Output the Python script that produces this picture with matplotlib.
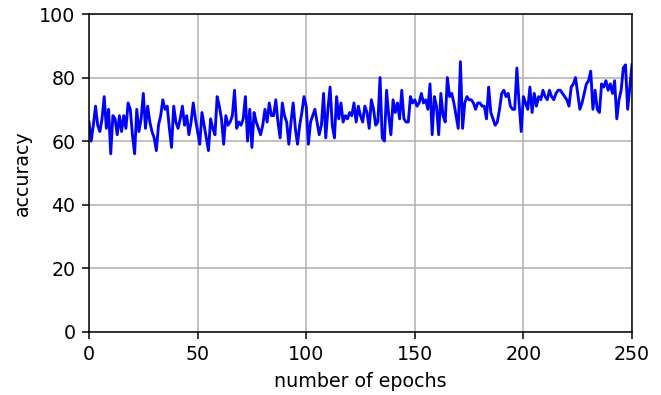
import numpy as np
import matplotlib
matplotlib.use("Agg")
import matplotlib.pyplot as plt

# accuracy per epoch
ACC_0_42 = [66, 60, 65, 71, 65, 63, 67, 74, 64, 70, 56, 68, 67, 62, 68, 63, 68, 64, 72,
            70, 62, 56, 70, 63, 67, 75, 64, 71, 66, 63, 61, 57, 65, 68, 73, 70, 71, 64,
            58, 71, 66, 64, 67]
ACC_43_84 = [71, 65, 68, 62, 66, 72, 67, 63, 59, 69, 65, 61, 57, 67, 64, 62, 74, 71, 67,
             59, 68, 65, 66, 68, 76, 64, 66, 65, 67, 74, 60, 70, 58, 69, 66, 64, 62, 65,
             70, 66, 72, 68]
ACC_85_125 = [68, 73, 66, 61, 72, 68, 66, 59, 66, 72, 64, 59, 65, 69, 74, 71, 59, 66, 68,
              70, 66, 62, 65, 75, 61, 70, 77, 65, 61, 74, 67, 72, 66, 68, 67, 69, 68, 72,
              66, 71, 68]
ACC_126_166 = [66, 71, 69, 64, 73, 70, 65, 66, 80, 61, 60, 76, 68, 62, 73, 69, 72, 67, 76,
               67, 66, 66, 74, 72, 73, 71, 72, 75, 72, 73, 70, 78, 62, 74, 71, 62, 75, 68,
               66, 80, 74]
ACC_167_208 = [75, 72, 68, 64, 85, 64, 72, 74, 73, 73, 72, 70, 72, 72, 71, 71, 67, 77, 69,
               67, 65, 66, 70, 75, 76, 74, 75, 71, 70, 70, 83, 72, 63, 74, 72, 70, 77, 69,
               75, 71, 74, 73]
ACC_209_250 = [76, 74, 73, 76, 74, 73, 75, 76, 76, 75, 74, 73, 71, 77, 78, 80, 75, 70, 72,
               75, 78, 79, 82, 70, 76, 70, 69, 78, 77, 79, 76, 78, 75, 79, 67, 73, 76, 83,
               84, 70, 77, 84]

ACCURACY = ACC_0_42 + ACC_43_84 + ACC_85_125 + ACC_126_166 + ACC_167_208 + ACC_209_250
EPOCHS = np.arange(len(ACCURACY))

fig = plt.figure(figsize=(661 / 137, 395 / 137), dpi=137)
ax = fig.add_axes([89 / 661, 1 - 331.7 / 395, (632 - 89) / 661, (331.7 - 14) / 395])

ax.plot(EPOCHS, ACCURACY, color="b")
ax.set_xlim(0, 250)
ax.set_ylim(0, 100)
ax.set_xlabel("number of epochs")
ax.set_ylabel("accuracy")
ax.grid(True)

fig.savefig("out.png", dpi=137)
